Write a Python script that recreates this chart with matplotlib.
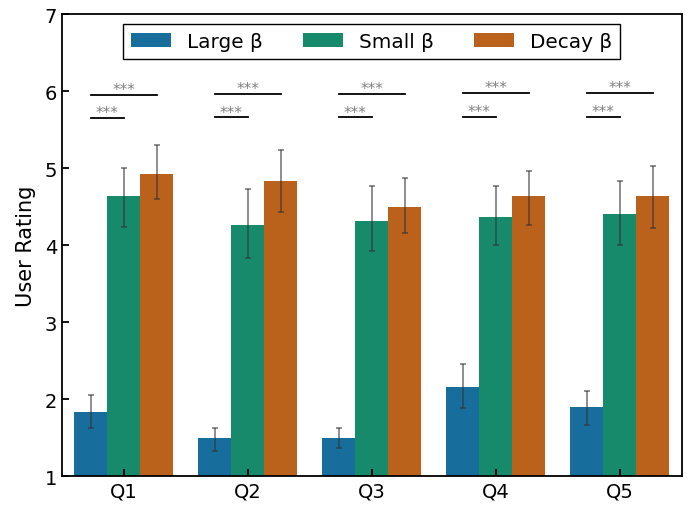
import numpy as np
import matplotlib.pyplot as plt

questions = ['Q1', 'Q2', 'Q3', 'Q4', 'Q5']
methods = ['Large β', 'Small β', 'Decay β']
colors = ['#176d9c', '#168a6a', '#ba611b']

# mean ratings per method
large_mean = [1.83, 1.49, 1.49, 2.16, 1.90]
small_mean = [4.64, 4.26, 4.32, 4.36, 4.40]
decay_mean = [4.93, 4.83, 4.49, 4.64, 4.64]

# error bar ends (low, high)
large_lo = [1.63, 1.33, 1.36, 1.89, 1.66]
large_hi = [2.06, 1.63, 1.63, 2.46, 2.10]
small_lo = [4.23, 3.83, 3.93, 4.00, 4.00]
small_hi = [5.00, 4.73, 4.77, 4.77, 4.83]
decay_lo = [4.60, 4.43, 4.16, 4.26, 4.22]
decay_hi = [5.30, 5.23, 4.87, 4.96, 5.03]

# significance bracket heights
sig_low = [5.655, 5.66, 5.66, 5.67, 5.67]
sig_high = [5.955, 5.96, 5.96, 5.98, 5.98]
sig_label = '***'

means = [large_mean, small_mean, decay_mean]
los = [large_lo, small_lo, decay_lo]
his = [large_hi, small_hi, decay_hi]

fig, ax = plt.subplots(figsize=(6.88, 5.06), dpi=100)
fig.subplots_adjust(left=0.090, right=0.991, bottom=0.057, top=0.970)

x = np.arange(len(questions))
width = 0.8 / 3
for i, name in enumerate(methods):
    pos = x + (i - 1) * width
    m = np.array(means[i])
    ax.bar(pos, m - 1, width, bottom=1, color=colors[i], label=name, linewidth=0)
    yerr = [m - np.array(los[i]), np.array(his[i]) - m]
    ax.errorbar(pos, m, yerr=yerr, fmt='none', ecolor='0.2', alpha=0.6,
                elinewidth=1.3, capsize=2.5, capthick=1.3)

for j in range(len(questions)):
    xb = x[j] - width
    xg = x[j]
    xo = x[j] + width
    ax.plot([xb, xg], [sig_low[j]] * 2, color='black', lw=1.3)
    ax.plot([xb, xo], [sig_high[j]] * 2, color='black', lw=1.3)
    ax.text((xb + xg) / 2, sig_low[j] + 0.01, sig_label, ha='center', va='baseline',
            fontsize=11, color='0.5')
    ax.text((xb + xo) / 2, sig_high[j] + 0.01, sig_label, ha='center', va='baseline',
            fontsize=11, color='0.5')

ax.set_xlim(-0.5, 4.5)
ax.set_ylim(1, 7)
ax.set_xticks(x)
ax.set_xticklabels(questions)
ax.set_yticks([1, 2, 3, 4, 5, 6, 7])
ax.set_ylabel('User Rating', fontsize=15, labelpad=6)
ax.tick_params(direction='in', length=5, width=1.3, labelsize=14)
for s in ax.spines.values():
    s.set_linewidth(1.3)

leg = ax.legend(loc='upper center', ncol=3, fontsize=14.4, fancybox=False,
                edgecolor='black', framealpha=1)
leg.get_frame().set_linewidth(1.0)

plt.savefig('out.png', dpi=100)
